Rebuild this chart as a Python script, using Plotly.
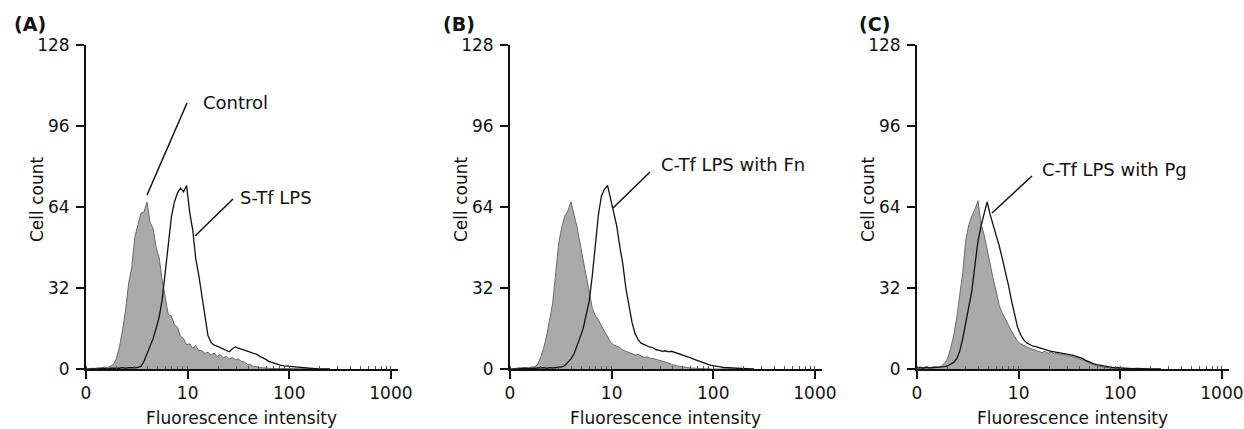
import plotly.graph_objects as go

W, H = 1244, 429

# channel positions in decades (0 = intensity 1, shown as "0")
LOG_X = [
    0.00, 0.03, 0.06, 0.09, 0.12, 0.15, 0.18, 0.21, 0.24, 0.27,
    0.30, 0.33, 0.36, 0.39, 0.42, 0.45, 0.48, 0.51, 0.54, 0.57,
    0.60, 0.63, 0.66, 0.69, 0.72, 0.75, 0.78, 0.81, 0.84, 0.87,
    0.90, 0.93, 0.96, 0.99, 1.02, 1.05, 1.08, 1.11, 1.14, 1.17,
    1.20, 1.23, 1.26, 1.29, 1.32, 1.35, 1.38, 1.41, 1.44, 1.47,
    1.50, 1.53, 1.56, 1.59, 1.62, 1.65, 1.68, 1.71, 1.74, 1.77,
    1.80, 1.83, 1.86, 1.89, 1.92, 1.95, 1.98, 2.01, 2.04, 2.07,
    2.10, 2.13, 2.16, 2.19, 2.22, 2.25, 2.28, 2.31, 2.34, 2.37,
    2.40,
]

CONTROL_A = [
    0, 0, 0.3, 0.2, 0.5, 0.3, 0.8, 0.5, 1.2, 1.8,
    4.2, 9.0, 15.5, 23.5, 34, 40, 52, 57, 61.5, 62,
    66, 58, 55.5, 48, 44, 35, 27.5, 21.5, 21, 17.5,
    16.5, 13, 12, 9.5, 10, 8.2, 9.2, 7.3, 7.2, 6.2,
    6.6, 5.5, 6.3, 4.9, 5.7, 4.4, 5.0, 4.0, 4.5, 3.6,
    3.9, 3.0, 2.7, 1.9, 1.7, 1.0, 0.9, 0.5, 0.5, 0.3,
    0.3, 0.2, 0.2, 0.1, 0, 0, 0, 0, 0, 0,
    0, 0, 0, 0, 0, 0, 0, 0, 0, 0,
    0,
]
STF_A = [
    0, 0, 0, 0.2, 0, 0.3, 0.2, 0, 0.3, 0.2,
    0.4, 0.3, 0.5, 0.3, 0.5, 0.4, 0.5, 0.6, 1.0, 3.0,
    5.8, 8.5, 12, 16, 20.5, 27.5, 38, 50.5, 60, 66,
    69.5, 71.5, 70, 72.5, 62, 55, 43.5, 37, 29, 22,
    13.2, 10.5, 9.4, 9.0, 8.5, 8.0, 7.2, 6.8, 8.0, 8.7,
    8.2, 7.8, 7.5, 7.2, 6.8, 6.3, 5.8, 5.0, 4.5, 3.8,
    3.0, 2.6, 2.0, 1.6, 1.4, 1.2, 1.1, 0.9, 0.6, 0.5,
    0.4, 0.3, 0.2, 0.2, 0.1, 0, 0, 0, 0, 0,
    0,
]
CONTROL_B = [
    0, 0, 0.3, 0.5, 0.3, 0.6, 0.3, 0.8, 0.9, 1.6,
    4.5, 8, 13, 19.5, 26, 38, 50, 56, 60.5, 62.5,
    66, 61, 56, 49.5, 43, 38, 30, 24, 21, 19.5,
    17, 15, 12.5, 10.5, 9.5, 9, 8.5, 7.5, 7, 6.4,
    6.2, 5.5, 5.8, 5.2, 4.6, 4.8, 4.2, 4.1, 3.8, 3.6,
    3.3, 2.9, 2.4, 1.8, 1.4, 1.2, 1.0, 0.9, 0.6, 0.4,
    0.3, 0.2, 0.1, 0.1, 0, 0, 0, 0, 0, 0,
    0, 0, 0, 0, 0, 0, 0, 0, 0, 0,
    0,
]
FN_B = [
    0, 0, 0.2, 0, 0.3, 0.2, 0.4, 0.2, 0.3, 0.4,
    0.3, 0.5, 0.3, 0.5, 0.4, 0.6, 0.6, 0.8, 1.4, 2.5,
    4, 6, 9, 12.5, 16, 22, 27, 37, 50, 61,
    68.5, 71, 72.5, 67.5, 61.5, 56.5, 48.5, 41.5, 32, 25,
    18.5, 14, 11.6, 10.2, 9.6, 9, 8.6, 8.3, 7.6, 7.4,
    7, 7.2, 6.8, 7, 6.6, 6.2, 6, 5.6, 5, 4.5,
    4, 3.5, 3.0, 2.7, 2.3, 1.8, 1.4, 1.1, 0.9, 0.8,
    0.6, 0.5, 0.4, 0.3, 0.2, 0.2, 0.1, 0, 0, 0,
    0,
]
CONTROL_C = [
    0.5, 0.8, 0.5, 1.0, 0.6, 0.8, 0.9, 0.6, 1.2, 2.2,
    4, 8, 13, 20, 28.5, 38, 51, 57, 60.5, 63,
    66.5, 57.5, 53, 47, 40.5, 35.5, 30.5, 25, 22, 19.5,
    17.5, 15, 13, 10.8, 10, 9.2, 8.7, 8.2, 7.8, 7.4,
    7.2, 6.5, 7.0, 6.2, 6.8, 5.9, 6.3, 5.6, 6.0, 5.2,
    5.2, 4.9, 4.6, 4.2, 3.8, 3.2, 2.6, 2.0, 1.6, 1.2,
    0.9, 0.8, 0.6, 0.5, 0.4, 0.3, 0.3, 0.2, 0.1, 0.1,
    0.1, 0.1, 0, 0, 0, 0, 0, 0, 0, 0,
    0,
]
PG_C = [
    0.3, 0.5, 0.3, 0.6, 0.4, 0.5, 0.6, 0.5, 0.7, 0.9,
    1.2, 1.8, 2.6, 4, 7, 12, 18, 23.5, 31, 41,
    50.5, 56.5, 61.5, 66, 61, 57, 52.5, 48.5, 43.5, 38.5,
    33, 27, 21.5, 16.5, 13.5, 11.5, 10.3, 9.5, 9.0, 8.8,
    8.4, 8.0, 7.7, 7.3, 7.0, 6.8, 6.6, 6.4, 6.2, 6.0,
    5.8, 5.5, 5.1, 4.8, 4.3, 3.6, 3.0, 2.5, 2.0, 1.7,
    1.4, 1.1, 0.9, 0.8, 0.6, 0.5, 0.4, 0.3, 0.3, 0.2,
    0.2, 0.1, 0.2, 0.1, 0.1, 0, 0, 0, 0, 0,
    0,
]

PANELS = ["(A)", "(B)", "(C)"]
TEST_NAMES = ["S-Tf LPS", "C-Tf LPS with Fn", "C-Tf LPS with Pg"]
X_TITLE = "Fluorescence intensity"
Y_TITLE = "Cell count"
X_TICKS = [1, 10, 100, 1000]
X_TICKTEXT = ["0", "10", "100", "1000"]
Y_TICKS = [0, 32, 64, 96, 128]

FONT = "DejaVu Sans"
x = [10 ** v for v in LOG_X]
controls = [CONTROL_A, CONTROL_B, CONTROL_C]
tests = [STF_A, FN_B, PG_C]
axis_px = [(86, 398), (510, 822), (917, 1229)]   # left/right edge of each panel, pixels
Y_TOP, Y_BOTTOM = 45, 369


def px(xp, yp):
    return xp / W, 1 - yp / H


fig = go.Figure()
for i in range(3):
    xa = "x" if i == 0 else f"x{i + 1}"
    ya = "y" if i == 0 else f"y{i + 1}"
    fig.add_trace(go.Scatter(x=x, y=controls[i], mode="lines", fill="tozeroy",
                             fillcolor="#aaaaaa", line=dict(color="#6a6a6a", width=1),
                             xaxis=xa, yaxis=ya, showlegend=False))
    fig.add_trace(go.Scatter(x=x, y=tests[i], mode="lines",
                             line=dict(color="#111111", width=1.3),
                             xaxis=xa, yaxis=ya, showlegend=False))

axis_common = dict(showgrid=False, zeroline=False, showline=True, linecolor="#111",
                   linewidth=2, ticks="outside", ticklen=8, tickwidth=2, tickcolor="#111",
                   automargin=False, tickfont=dict(family=FONT, size=17, color="#111"))
layout = {}
for i in range(3):
    sx = "" if i == 0 else str(i + 1)
    left, right = axis_px[i]
    layout[f"xaxis{sx}"] = dict(
        axis_common, type="log", range=[0, 3.07], domain=[left / W, right / W],
        anchor=f"y{sx}", tickvals=X_TICKS, ticktext=X_TICKTEXT,
        minor=dict(ticks="inside", ticklen=3, tickwidth=1, tickcolor="#555", dtick="D1"),
    )
    layout[f"yaxis{sx}"] = dict(
        axis_common, range=[0, 128], domain=[1 - Y_BOTTOM / H, 1 - Y_TOP / H],
        anchor=f"x{sx}", tickvals=Y_TICKS, ticklabelstandoff=3,
    )

annotations = []
label_x = [12, 441, 857]
for i in range(3):
    left, right = axis_px[i]
    ax, ay = px(label_x[i], 24)
    annotations.append(dict(xref="paper", yref="paper", x=ax, y=ay, text=f"<b>{PANELS[i]}</b>",
                            showarrow=False, xanchor="left", yanchor="middle",
                            font=dict(family=FONT, size=19, color="#111")))
    ax, ay = px(left - 49, 200)
    annotations.append(dict(xref="paper", yref="paper", x=ax, y=ay, text=Y_TITLE, textangle=-90,
                            showarrow=False, xanchor="center", yanchor="middle",
                            font=dict(family=FONT, size=17, color="#111")))
    ax, ay = px((left + right) / 2 - 1, 406)
    annotations.append(dict(xref="paper", yref="paper", x=ax, y=ay, text=X_TITLE,
                            showarrow=False, xanchor="center", yanchor="top",
                            font=dict(family=FONT, size=17, color="#111")))

text_pos = [("Control", 201, 103), (TEST_NAMES[0], 238, 197),
            (TEST_NAMES[1], 659, 165), (TEST_NAMES[2], 1040, 169)]
for t, tx, ty in text_pos:
    ax, ay = px(tx, ty)
    annotations.append(dict(xref="paper", yref="paper", x=ax, y=ay, text=t, showarrow=False,
                            xanchor="left", yanchor="middle",
                            font=dict(family=FONT, size=18, color="#111")))

leaders = [(187, 103, 147, 195), (233, 199, 195, 236), (650, 172, 613, 208), (1032, 176, 992, 213)]
shapes = []
for x0, y0, x1, y1 in leaders:
    a0, b0 = px(x0, y0)
    a1, b1 = px(x1, y1)
    shapes.append(dict(type="line", xref="paper", yref="paper", x0=a0, y0=b0, x1=a1, y1=b1,
                       line=dict(color="#111", width=1.5)))

fig.update_layout(**layout)
fig.update_layout(
    width=W, height=H, margin=dict(l=0, r=0, t=0, b=0, autoexpand=False),
    plot_bgcolor="white", paper_bgcolor="white",
    annotations=annotations, shapes=shapes,
    font=dict(family=FONT, color="#111"),
)
# page has a default 8px body margin; drop it so the figure fills the window
fig.write_html("out.html", config={"displayModeBar": False},
               post_script="document.body.style.margin='0';")
